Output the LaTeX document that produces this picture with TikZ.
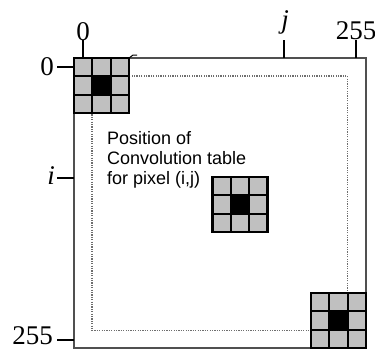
\documentclass[tikz,border=0pt]{standalone}
\usepackage{fontspec}
\setmainfont{Liberation Serif}
\newfontfamily\labelsans{Liberation Sans}
\definecolor{cellgray}{RGB}{192,192,192}
\definecolor{framegray}{RGB}{80,80,80}
\definecolor{dotgray}{RGB}{110,110,110}
\tikzset{
  axislabel/.style={inner sep=0pt, font=\fontsize{27}{30}\selectfont},
  notetext/.style={inner sep=0pt, anchor=base west, font=\labelsans\fontsize{18}{20}\selectfont},
  tickline/.style={line width=2pt, black},
  frameline/.style={line width=1.4pt, framegray},
  pathline/.style={line width=1.6pt, dotgray, dash pattern=on 1.2pt off 1.2pt},
  kernel/.pic={
    \fill[cellgray] (0,0) rectangle (55,55);
    \fill[black] (18.33,18.33) rectangle (36.67,36.67);
    \foreach \k in {18.33,36.67}{
      \draw[line width=1.8pt] (\k,0) -- (\k,55);
      \draw[line width=1.8pt] (0,\k) -- (55,\k);
    }
    \draw[line width=2.2pt] (0,0) rectangle (55,55);
  }
}
\begin{document}
\begin{tikzpicture}[x=1pt,y=-1pt]
\useasboundingbox (0,0) rectangle (375,349);

% image frame
\draw[frameline] (74,58) rectangle (366,348);
% path of the table centre over the image
\draw[pathline] (92,76) rectangle (347.5,330.5);

% small mark at the top edge
\draw[line width=1pt] (129,58) -- (133,55) -- (137,55);

% convolution tables
\pic at (74,58) {kernel};
\pic at (212.5,177) {kernel};
\pic at (311,293) {kernel};

% column labels and ticks
\node[axislabel, anchor=base] (c0) at (83,40) {0};
\node[axislabel, anchor=base] (cj) at (285,28) {\itshape j};
\node[axislabel, anchor=base] (c255) at (356,39.5) {255};
\coordinate (c0b) at (83,58);
\coordinate (cjt) at (284,40);
\coordinate (cjb) at (284,58);
\coordinate (c255b) at (356,58);
\draw[tickline] (c0.south) -- (c0b);
\draw[tickline] (cjt) -- (cjb);
\draw[tickline] (c255.south) -- (c255b);

% row labels and ticks
\node[axislabel, anchor=base east] (r0) at (54,75) {0};
\node[axislabel, anchor=base east] (ri) at (55,184) {\itshape i};
\node[axislabel, anchor=base east] (r255) at (53,344.5) {255};
\coordinate (r0a) at (57,67);
\coordinate (r0b) at (74,67);
\coordinate (ria) at (57,178);
\coordinate (rib) at (74,178);
\coordinate (r255a) at (57,340);
\coordinate (r255b) at (74,340);
\draw[tickline] (r0a) -- (r0b);
\draw[tickline] (ria) -- (rib);
\draw[tickline] (r255a) -- (r255b);

% caption inside the frame
\node[notetext] (note1) at (107,144.5) {Position of};
\node[notetext] (note2) at (107,164.5) {Convolution table};
\node[notetext] (note3) at (107,184.5) {for pixel (i,j)};
\end{tikzpicture}
\end{document}
